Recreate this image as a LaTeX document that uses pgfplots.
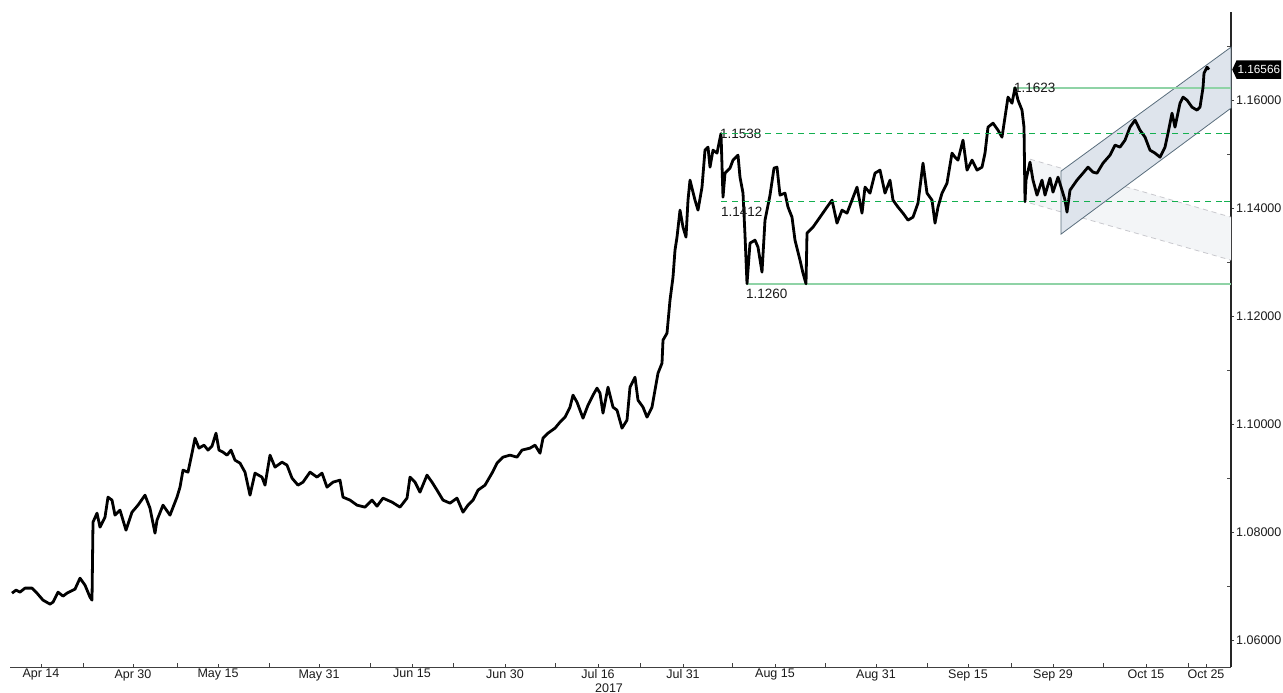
\documentclass[border=0pt]{standalone}
\usepackage{pgfplots}
\pgfplotsset{compat=1.18}
\usepackage{fontspec}
\setmainfont{Liberation Sans}
\usetikzlibrary{shapes.symbols}
\definecolor{lvlsolid}{HTML}{8FD3A6}
\definecolor{lvldash}{HTML}{14B050}
\definecolor{chanfill}{HTML}{DEE4EC}
\definecolor{chanline}{HTML}{5A6E7D}
\definecolor{greyfill}{HTML}{F3F5F7}
\definecolor{greyline}{HTML}{C8C8CD}
\definecolor{txt}{HTML}{1A1A1A}
\pgfplotstableread{
x y
12 1.06870
16 1.06926
20 1.06889
25 1.06963
32 1.06963
37 1.06870
43 1.06741
50 1.06667
53 1.06704
58 1.06889
63 1.06815
67 1.06870
75 1.06944
80 1.07148
85 1.07019
90 1.06796
92 1.06741
93 1.08185
97 1.08352
100 1.08093
105 1.08278
108 1.08648
112 1.08593
115 1.08315
120 1.08407
126 1.08037
132 1.08370
138 1.08500
145 1.08685
150 1.08444
155 1.07981
157 1.08222
163 1.08500
170 1.08315
177 1.08648
180 1.08833
183 1.09148
188 1.09111
192 1.09463
195 1.09741
199 1.09556
204 1.09611
208 1.09519
212 1.09593
216 1.09833
219 1.09519
223 1.09481
227 1.09426
231 1.09519
235 1.09333
240 1.09278
245 1.09111
250 1.08685
255 1.09093
262 1.09019
265 1.08870
270 1.09426
275 1.09204
282 1.09296
287 1.09241
292 1.09000
298 1.08870
303 1.08926
310 1.09111
317 1.09019
322 1.09093
327 1.08833
333 1.08926
340 1.08963
343 1.08648
350 1.08593
357 1.08500
365 1.08463
372 1.08593
377 1.08481
383 1.08630
392 1.08556
400 1.08463
407 1.08630
410 1.09019
415 1.08926
420 1.08741
427 1.09056
432 1.08926
437 1.08778
443 1.08593
450 1.08537
457 1.08630
463 1.08370
468 1.08500
473 1.08593
478 1.08778
485 1.08870
492 1.09093
497 1.09278
503 1.09389
510 1.09426
517 1.09389
522 1.09519
530 1.09556
535 1.09611
540 1.09463
543 1.09741
548 1.09833
555 1.09926
560 1.10037
565 1.10130
570 1.10315
573 1.10537
577 1.10407
583 1.10111
588 1.10352
593 1.10537
597 1.10667
600 1.10574
603 1.10204
608 1.10685
613 1.10315
617 1.10259
622 1.09926
627 1.10074
630 1.10685
635 1.10870
638 1.10444
643 1.10315
647 1.10130
652 1.10315
655 1.10630
658 1.10944
662 1.11130
663 1.11556
667 1.11685
670 1.12296
673 1.12722
675 1.13222
677 1.13463
680 1.13963
683 1.13648
686 1.13463
688 1.14148
690 1.14519
695 1.14148
698 1.13963
702 1.14389
705 1.15074
708 1.15130
710 1.14759
713 1.15074
717 1.15019
719 1.15204
721 1.15380
723 1.14204
725 1.14648
730 1.14741
733 1.14889
738 1.14981
740 1.14574
743 1.14278
745 1.13500
747 1.12600
750 1.13352
755 1.13407
758 1.13278
762 1.12815
765 1.13778
770 1.14241
774 1.14741
777 1.14759
780 1.14241
785 1.14278
788 1.14019
792 1.13833
795 1.13407
800 1.13037
803 1.12796
806 1.12600
807 1.13537
813 1.13648
820 1.13833
827 1.14019
832 1.14148
837 1.13722
842 1.13963
847 1.13907
852 1.14148
857 1.14389
862 1.13907
865 1.14389
870 1.14278
875 1.14648
880 1.14704
885 1.14278
890 1.14519
893 1.14148
898 1.14019
903 1.13907
908 1.13778
913 1.13833
918 1.14093
923 1.14833
927 1.14278
932 1.14148
935 1.13722
938 1.14019
942 1.14278
947 1.14463
952 1.15019
955 1.14944
958 1.14889
963 1.15259
967 1.14704
972 1.14889
977 1.14704
982 1.14759
985 1.15019
988 1.15500
993 1.15574
998 1.15444
1002 1.15315
1005 1.15685
1008 1.16056
1012 1.15944
1015 1.16230
1018 1.16000
1022 1.15815
1024 1.15500
1025 1.14120
1026 1.14519
1030 1.14852
1033 1.14519
1037 1.14241
1042 1.14519
1045 1.14241
1050 1.14556
1053 1.14296
1058 1.14574
1062 1.14333
1065 1.14148
1067 1.13926
1070 1.14333
1077 1.14519
1083 1.14648
1088 1.14759
1093 1.14667
1097 1.14648
1103 1.14833
1110 1.14981
1115 1.15167
1120 1.15130
1125 1.15259
1130 1.15500
1135 1.15630
1140 1.15444
1145 1.15315
1150 1.15074
1155 1.15019
1160 1.14944
1165 1.15130
1168 1.15389
1172 1.15759
1175 1.15500
1180 1.15944
1183 1.16056
1187 1.16000
1192 1.15870
1197 1.15815
1200 1.15870
1203 1.16230
1204 1.16500
1207 1.16611
1209 1.16566
}\price
\pgfplotstableread{
x y
1013 1.1623
1231 1.1623
}\lvlA
\pgfplotstableread{
x y
747 1.1260
1231 1.1260
}\lvlD
% dashed support/resistance levels (dash centres)
\pgfplotstableread{
x a b
724 1.1538 1.1412
735 1.1538 1.1412
746 1.1538 1.1412
757 1.1538 1.1412
768 1.1538 1.1412
779 1.1538 1.1412
790 1.1538 1.1412
801 1.1538 1.1412
812 1.1538 1.1412
823 1.1538 1.1412
834 1.1538 1.1412
845 1.1538 1.1412
856 1.1538 1.1412
867 1.1538 1.1412
878 1.1538 1.1412
889 1.1538 1.1412
900 1.1538 1.1412
911 1.1538 1.1412
922 1.1538 1.1412
933 1.1538 1.1412
944 1.1538 1.1412
955 1.1538 1.1412
966 1.1538 1.1412
977 1.1538 1.1412
988 1.1538 1.1412
999 1.1538 1.1412
1010 1.1538 1.1412
1021 1.1538 1.1412
1032 1.1538 1.1412
1043 1.1538 1.1412
1054 1.1538 1.1412
1065 1.1538 1.1412
1076 1.1538 1.1412
1087 1.1538 1.1412
1098 1.1538 1.1412
1109 1.1538 1.1412
1120 1.1538 1.1412
1131 1.1538 1.1412
1142 1.1538 1.1412
1153 1.1538 1.1412
1164 1.1538 1.1412
1175 1.1538 1.1412
1186 1.1538 1.1412
1197 1.1538 1.1412
1208 1.1538 1.1412
1219 1.1538 1.1412
1227 1.1538 1.1412
}\lvlBC
\begin{document}
\begin{tikzpicture}
\begin{axis}[
  name=ax,
  scale only axis, width=1221pt, height=655pt,
  xmin=10, xmax=1231, ymin=1.05500, ymax=1.176296,
  axis x line*=bottom, axis y line*=right,
  clip=false,
  x axis line style={draw=black!75, line width=0.9pt, -},
  y axis line style={draw=black!85, line width=1.4pt, -},
  xtick={41,133,218,319,412,505,598,683,775,876,968,1053,1146,1206},
  xticklabels={Apr 14,Apr 30,May 15,May 31,Jun 15,Jun 30,Jul 16,Jul 31,Aug 15,Aug 31,Sep 15,Sep 29,Oct 15,Oct 25},
  extra x ticks={83,177,269,370,453,555,640,732,825,927,1011,1103,1188},
  extra x tick labels={},
  extra x tick style={major tick length=4pt},
  xtick align=inside,
  ytick align=outside,
  major tick length=3pt,
  ytick={1.06,1.08,1.10,1.12,1.14,1.16},
  yticklabels={1.06000,1.08000,1.10000,1.12000,1.14000,1.16000},
  minor ytick={1.07,1.09,1.11,1.13,1.15,1.17},
  minor tick length=4pt,
  minor y tick style={xshift=-4pt, draw=black!70},
  tick style={draw=black!75, line width=0.8pt},
  tick label style={font=\fontsize{12.5}{14}\selectfont, text=txt},
  xticklabel style={inner sep=1pt, yshift=-1pt},
  yticklabel style={inner sep=1pt, xshift=1pt},
]
% grey (older) channel
\addplot[fill=greyfill, draw=none, forget plot] coordinates {(1030,1.14907) (1231,1.13833) (1231,1.13037) (1030,1.14093)} -- cycle;
\addplot[draw=greyline, line width=0.8pt, dash pattern=on 5pt off 4pt] coordinates {(1030,1.14907) (1231,1.13833)};
\addplot[draw=greyline, line width=0.8pt, dash pattern=on 5pt off 4pt] coordinates {(1030,1.14093) (1231,1.13037)};
% rising channel
\addplot[fill=chanfill, draw=chanline, line width=0.8pt] coordinates {(1061,1.14685) (1231,1.16981) (1231,1.15852) (1061,1.13519)} -- cycle;
% levels
\addplot[draw=lvlsolid, line width=1.6pt] table[x=x,y=y]{\lvlA};
\addplot[draw=lvlsolid, line width=1.6pt] table[x=x,y=y]{\lvlD};
\addplot[only marks, mark=-, mark size=3pt, mark options={draw=lvldash, line width=1.6pt}] table[x=x,y=a]{\lvlBC};
\addplot[only marks, mark=-, mark size=3pt, mark options={draw=lvldash, line width=1.6pt}] table[x=x,y=b]{\lvlBC};
% price
\addplot[black, line width=2.8pt, line join=round] table[x=x,y=y]{\price};
% level labels
\node[anchor=west, inner sep=0pt, text=txt, font=\fontsize{13.5}{15}\selectfont] at (axis cs:1014,1.1623) {1.1623};
\node[anchor=west, inner sep=0pt, text=txt, font=\fontsize{13.5}{15}\selectfont] at (axis cs:720,1.1538) {1.1538};
\node[anchor=north west, inner sep=0pt, text=txt, font=\fontsize{13.5}{15}\selectfont] at (axis cs:721,1.1403) {1.1412};
\node[anchor=north west, inner sep=0pt, text=txt, font=\fontsize{13.5}{15}\selectfont] at (axis cs:746,1.1251) {1.1260};
% last price tag
\node[signal, signal to=west, signal pointer angle=130, fill=black, text=white, anchor=west,
      inner xsep=1pt, inner ysep=5pt, font=\fontsize{11.8}{14}\selectfont] at (axis cs:1232,1.16566) {1.16566};
% year label
\node[anchor=north, inner sep=0pt, text=txt, font=\fontsize{12.5}{14}\selectfont] at (axis cs:609,1.0550) [yshift=-16pt] {2017};
\draw[black!35, line width=0.9pt] (axis cs:1206,1.0550) ++(0,-13pt) -- ++(0,-14pt);
\end{axis}
\pgfresetboundingbox
\path ([shift={(-10pt,-26pt)}]ax.south west) rectangle ([shift={(52pt,12pt)}]ax.north east);
\end{tikzpicture}
\end{document}
